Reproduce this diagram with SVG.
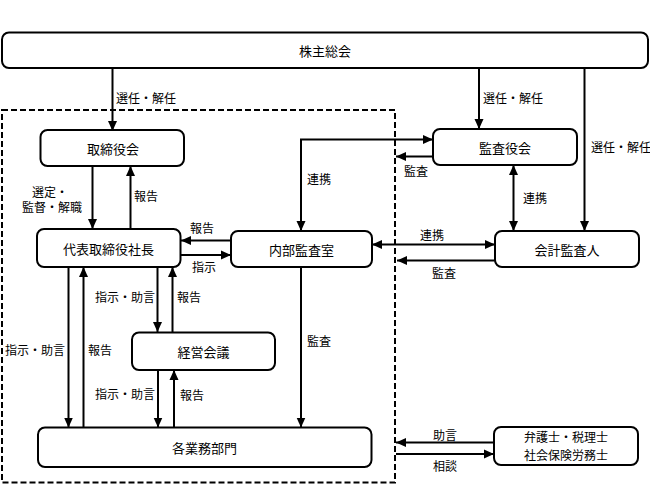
<svg xmlns="http://www.w3.org/2000/svg" width="650" height="487" viewBox="0 0 650 487">
<style>
.box{fill:#fff;stroke:#000;stroke-width:2}
.nt{font-family:"Noto Sans CJK JP","Noto Sans CJK SC",sans-serif;font-size:13px;fill:#000;text-anchor:middle;dominant-baseline:central}
.nt2{font-family:"Noto Sans CJK JP","Noto Sans CJK SC",sans-serif;font-size:12px;fill:#000;text-anchor:middle;dominant-baseline:central}
.lb{font-family:"Noto Sans CJK JP","Noto Sans CJK SC",sans-serif;font-size:12px;fill:#000;dominant-baseline:central}
.ln{fill:none;stroke:#000;stroke-width:2}
.e{marker-end:url(#ah)}
.b{marker-start:url(#ah);marker-end:url(#ah)}
</style>
<defs>
<marker id="ah" markerUnits="userSpaceOnUse" markerWidth="10" markerHeight="10" refX="10" refY="5" orient="auto-start-reverse" viewBox="0 0 10 10">
<path d="M0,0.5 L10,5 L0,9.5 z" fill="#000"/>
</marker>
</defs>
<rect width="650" height="487" fill="#fff"/>
<rect x="2" y="110" width="393" height="372.5" fill="none" stroke="#000" stroke-width="2" stroke-dasharray="6,3"/>
<g id="connectors">
<path class="ln e" d="M112.5,68 V131"/>
<path class="ln e" d="M479,68 V129"/>
<path class="ln e" d="M584.5,68 V231"/>
<path class="ln e" d="M92.5,166 V229"/>
<path class="ln e" d="M130.5,229 V166"/>
<path class="ln e" d="M231,240.5 H181"/>
<path class="ln e" d="M181,255 H231"/>
<path class="ln b" d="M301,231 V139.5 H433"/>
<path class="ln e" d="M433,156.5 H396"/>
<path class="ln b" d="M513.5,165 V231"/>
<path class="ln b" d="M372,244.5 H495"/>
<path class="ln e" d="M495,260.5 H397"/>
<path class="ln e" d="M68.5,267 V427.5"/>
<path class="ln e" d="M83.5,427.5 V267"/>
<path class="ln e" d="M157.5,267 V332"/>
<path class="ln e" d="M172.5,332 V267"/>
<path class="ln e" d="M158,370 V427.5"/>
<path class="ln e" d="M174,427.5 V370"/>
<path class="ln e" d="M301,267 V427.5"/>
<path class="ln e" d="M494,442.5 H396"/>
<path class="ln e" d="M396,454 H494"/>
</g>
<g id="labels">
<text class="lb" x="116" y="97">選任・解任</text>
<text class="lb" x="483" y="97">選任・解任</text>
<text class="lb" x="591" y="146">選任・解任</text>
<text class="lb" x="50" y="191" text-anchor="middle">選定・</text>
<text class="lb" x="52" y="206.5" text-anchor="middle">監督・解職</text>
<text class="lb" x="134" y="195.5">報告</text>
<text class="lb" x="190" y="227">報告</text>
<text class="lb" x="192" y="266">指示</text>
<text class="lb" x="307" y="178">連携</text>
<text class="lb" x="404" y="170">監査</text>
<text class="lb" x="523" y="197">連携</text>
<text class="lb" x="420" y="234">連携</text>
<text class="lb" x="432" y="272.5">監査</text>
<text class="lb" x="5" y="349">指示・助言</text>
<text class="lb" x="88" y="349">報告</text>
<text class="lb" x="95" y="296.5">指示・助言</text>
<text class="lb" x="177" y="296.5">報告</text>
<text class="lb" x="95" y="393">指示・助言</text>
<text class="lb" x="180" y="394">報告</text>
<text class="lb" x="307" y="340">監査</text>
<text class="lb" x="433" y="434">助言</text>
<text class="lb" x="433" y="465">相談</text>
</g>
<g id="n-kabunushi"><rect class="box" x="2" y="32.5" width="646" height="35.5" rx="7"/><text class="nt" x="325" y="50">株主総会</text></g>
<g id="n-torishimariyakukai"><rect class="box" x="40.5" y="130" width="143.5" height="36" rx="7"/><text class="nt" x="113" y="148">取締役会</text></g>
<g id="n-kansayakukai"><rect class="box" x="433" y="129" width="144" height="36" rx="7"/><text class="nt" x="505" y="147">監査役会</text></g>
<g id="n-daihyo"><rect class="box" x="37" y="229" width="143.5" height="38" rx="7"/><text class="nt" x="108.5" y="248">代表取締役社長</text></g>
<g id="n-naibukansa"><rect class="box" x="231" y="231" width="141" height="36" rx="7"/><text class="nt" x="301.5" y="249">内部監査室</text></g>
<g id="n-kaikeikansa"><rect class="box" x="495" y="231" width="144" height="36" rx="7"/><text class="nt" x="567" y="249">会計監査人</text></g>
<g id="n-keiei"><rect class="box" x="132" y="332.5" width="143" height="37.5" rx="7"/><text class="nt" x="203.5" y="351">経営会議</text></g>
<g id="n-kakugyomu"><rect class="box" x="38" y="427.5" width="333.5" height="39.5" rx="7"/><text class="nt" x="204.5" y="447">各業務部門</text></g>
<g id="n-senmonka"><rect class="box" x="494" y="427" width="144" height="38" rx="7"/><text class="nt2" x="566" y="436.5">弁護士・税理士</text><text class="nt2" x="566" y="454.5">社会保険労務士</text></g>
</svg>
